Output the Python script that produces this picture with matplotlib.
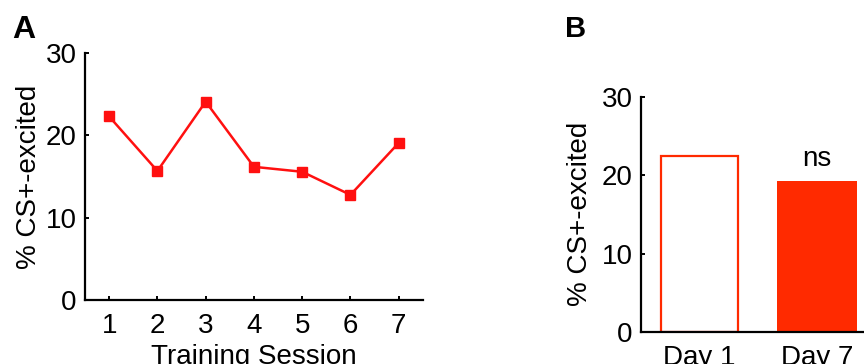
import matplotlib
matplotlib.use("Agg")
import matplotlib.pyplot as plt

plt.rcParams['font.family'] = ['Liberation Sans', 'DejaVu Sans']

sessions = [1, 2, 3, 4, 5, 6, 7]
pct_excited = [22.3, 15.7, 24.1, 16.2, 15.6, 12.8, 19.1]
yticks = [0, 10, 20, 30]

days = ["Day 1", "Day 7"]
day_values = [22.5, 19.2]

line_red = '#ff1010'
bar_red = '#ff2a00'

fig = plt.figure(figsize=(8.64, 3.64), dpi=100)

FS = 20

def style(ax):
    for s in ['top', 'right']:
        ax.spines[s].set_visible(False)
    for s in ['left', 'bottom']:
        ax.spines[s].set_linewidth(1.6)
    ax.tick_params(direction='in', length=3, width=1.4, labelsize=FS, pad=6)
    ax.tick_params(axis='x', pad=9)

# Panel A
axA = fig.add_axes([0.0984, 0.1745, 0.391, 0.680])
axA.plot(sessions, pct_excited, color=line_red, lw=1.8, marker='s', ms=6.5,
         markerfacecolor=line_red, markeredgecolor=line_red)
axA.set_xlim(0.5, 7.5)
axA.set_ylim(0, 30)
axA.set_xticks(sessions)
axA.set_yticks(yticks)
style(axA)
axA.set_xlabel("Training Session", fontsize=FS, labelpad=3.5)
axA.set_ylabel("% CS+-excited", fontsize=FS, labelpad=3)

# Panel B
axB = fig.add_axes([0.7419, 0.0879, 0.2714, 0.6464])
xpos = [1, 2]
axB.bar(xpos[0], day_values[0], width=0.66, facecolor='white', edgecolor=bar_red, linewidth=1.6)
axB.bar(xpos[1], day_values[1], width=0.68, facecolor=bar_red, edgecolor=bar_red, linewidth=0)
axB.text(xpos[1], day_values[1] + 1.2, "ns", ha='center', va='bottom', fontsize=FS)
axB.set_xlim(0.5, 2.5)
axB.set_ylim(0, 30)
axB.set_xticks(xpos)
axB.set_xticklabels(days)
axB.set_yticks(yticks)
style(axB)
axB.tick_params(axis='x', length=0, pad=9)
axB.set_ylabel("% CS+-excited", fontsize=FS, labelpad=6)

fig.text(12/864, 1 - 38/364, "A", fontsize=23, fontweight='bold', ha='left', va='baseline')
fig.text(565/864, 1 - 37/364, "B", fontsize=21, fontweight='bold', ha='left', va='baseline')

fig.savefig("out.png", dpi=100)
